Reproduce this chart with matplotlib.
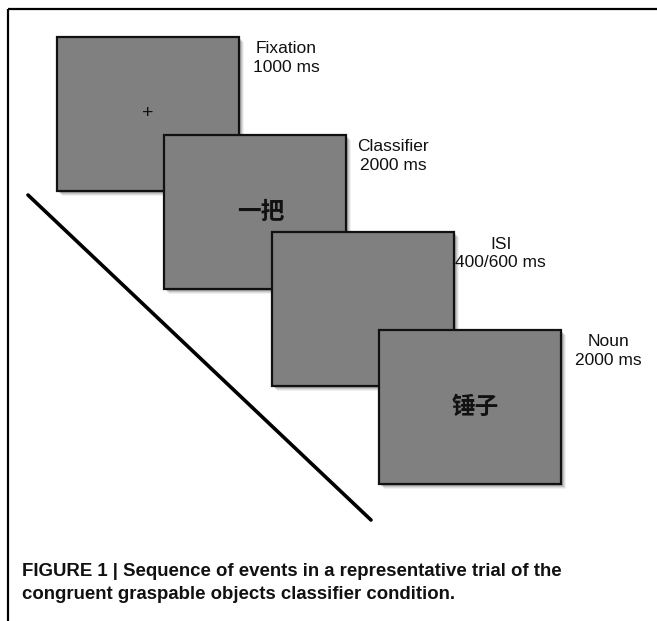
import matplotlib.pyplot as plt
from matplotlib.patches import Rectangle

plt.rcParams['font.family'] = ['Liberation Sans', 'DejaVu Sans']

# trial events
event_names = ['Fixation', 'Classifier', 'ISI', 'Noun']
durations = ['1000 ms', '2000 ms', '400/600 ms', '2000 ms']
stimuli = ['+', '一把', '', '锤子']

caption = ('FIGURE 1 | Sequence of events in a representative trial of the\n'
           'congruent graspable objects classifier condition.')

W, H = 657, 621
fig = plt.figure(figsize=(W / 100, H / 100), dpi=100)
ax = fig.add_axes([0, 0, 1, 1])
ax.set_xlim(0, W)
ax.set_ylim(H, 0)
ax.axis('off')

# frame: top and left border only
ax.plot([8, W], [9, 9], color='black', lw=1.6, solid_capstyle='butt')
ax.plot([8, 8], [9, H], color='black', lw=1.6, solid_capstyle='butt')

box_w, box_h = 182, 154
x0, y0 = 57, 37
dx, dy = 107.4, 97.7

for i, (name, dur, stim) in enumerate(zip(event_names, durations, stimuli)):
    bx = x0 + i * dx
    by = y0 + i * dy
    z = 2 + i * 2
    # soft shadow
    for off, a in [(5, 0.06), (4, 0.08), (3, 0.12), (2, 0.15)]:
        ax.add_patch(Rectangle((bx + off, by + off), box_w, box_h,
                               facecolor='black', edgecolor='none', alpha=a, zorder=z))
    ax.add_patch(Rectangle((bx, by), box_w, box_h, facecolor='#808080',
                           edgecolor='#111111', lw=1.6, zorder=z + 0.5))
    if stim == '+':
        ax.text(bx + box_w / 2, by + box_h / 2, stim, ha='center', va='center',
                fontsize=14, color='#111111', zorder=z + 1)
    elif stim:
        ax.text(bx + box_w / 2 + 5, by + box_h / 2, stim, ha='center', va='center',
                fontsize=17, fontweight='bold', color='#111111',
                family=['Noto Sans CJK SC', 'DejaVu Sans'], zorder=z + 1)
    ax.text(bx + box_w + 47, by + 21, name + '\n' + dur, ha='center', va='center',
            multialignment='center', fontsize=12.5, linespacing=1.3,
            color='#111111', zorder=z + 1)

# time arrow line
ax.plot([28, 371], [195, 520], color='black', lw=2.6, solid_capstyle='round', zorder=1)

ax.text(22, 583, caption, ha='left', va='center', fontsize=13.4, fontweight='bold',
        linespacing=1.5, color='#111111')

fig.savefig('out.png', dpi=100)
